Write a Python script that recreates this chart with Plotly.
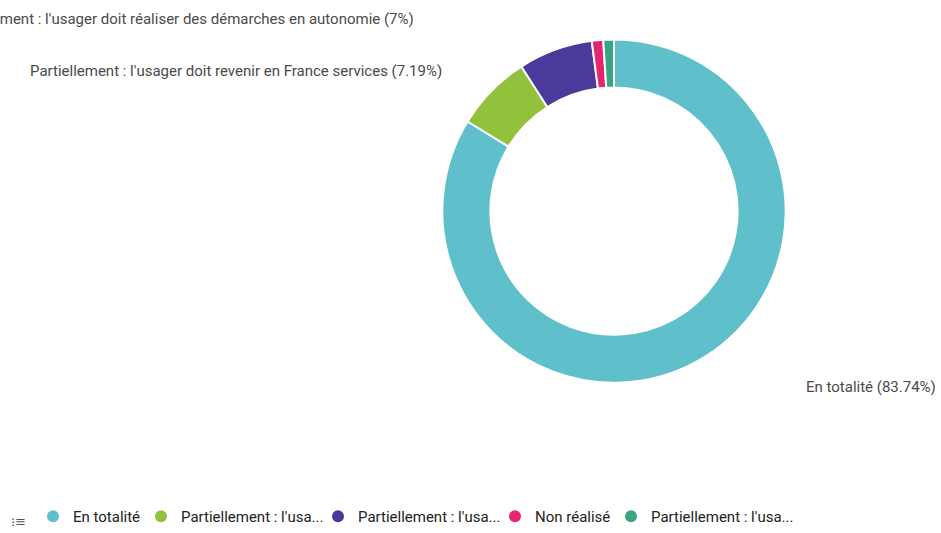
import plotly.graph_objects as go

# ---- data ----
categories = [
    "En totalité",
    "Partiellement : l'usager doit revenir en France services",
    "Partiellement : l'usager doit réaliser des démarches en autonomie",
    "Non réalisé",
    "Partiellement : l'usager doit être réorienté",
]
legend_labels = [
    "En totalité",
    "Partiellement : l'usa...",
    "Partiellement : l'usa...",
    "Non réalisé",
    "Partiellement : l'usa...",
]
values = [83.74, 7.19, 7.0, 1.07, 1.0]
colors = ["#5fc0cc", "#92c13c", "#4b3a9c", "#e6246f", "#3aa582"]

W, H = 941, 533
cx, cy, R = 614, 211.5, 172

fig = go.Figure()
fig.add_trace(go.Pie(
    labels=categories,
    values=values,
    sort=False,
    direction="clockwise",
    rotation=0,
    hole=0.72,
    marker=dict(colors=colors, line=dict(color="white", width=2)),
    textinfo="none",
    hoverinfo="label+percent",
    showlegend=False,
    domain=dict(x=[(cx - R) / W, (cx + R) / W],
                y=[(H - cy - R) / H, (H - cy + R) / H]),
))

# legend entries with circle symbols, one small legend box per entry
legend_symbol_px = [57, 165, 342, 519, 635]
legend_layout = {}
for i, (name, col) in enumerate(zip(legend_labels, colors)):
    key = "legend" if i == 0 else f"legend{i + 1}"
    fig.add_trace(go.Scatter(
        x=[None], y=[None], mode="markers", name=name,
        marker=dict(symbol="circle", size=12, color=col),
        showlegend=True, hoverinfo="skip", legend=key,
    ))
    legend_layout[key] = dict(
        x=(legend_symbol_px[i] - 24) / W, y=1 - 517 / H,
        xanchor="left", yanchor="middle",
        bgcolor="rgba(0,0,0,0)",
        font=dict(family="Roboto", size=15, color="#222222"),
        itemwidth=30,
    )

def fmt(v):
    return f"{v:.2f}".rstrip("0").rstrip(".")

label_font = dict(family="Roboto", size=15, color="#4a4a4a")
# outside labels (left ones cut by the page edge, as in the reference)
labels_pos = [
    (0, 938, 388, "right"),
    (2, 416, 19, "right"),
    (1, 444, 71, "right"),
]
for idx, px, py, anchor in labels_pos:
    fig.add_annotation(
        x=px / W, y=1 - py / H, xref="paper", yref="paper",
        xanchor=anchor, yanchor="middle", showarrow=False,
        text=f"{categories[idx]} ({fmt(values[idx])}%)",
        font=label_font,
    )

# list icon at bottom left
fig.add_annotation(x=18 / W, y=1 - 522 / H, xref="paper", yref="paper",
                   text="⁝≡", showarrow=False, xanchor="center", yanchor="middle",
                   font=dict(family="DejaVu Sans", size=13, color="#555555"))

fig.update_layout(
    width=W, height=H,
    margin=dict(l=0, r=0, t=0, b=0),
    paper_bgcolor="white", plot_bgcolor="white",
    xaxis=dict(visible=False), yaxis=dict(visible=False),
    font=dict(family="Roboto"),
    **legend_layout,
)

fig.write_html("out.html")
